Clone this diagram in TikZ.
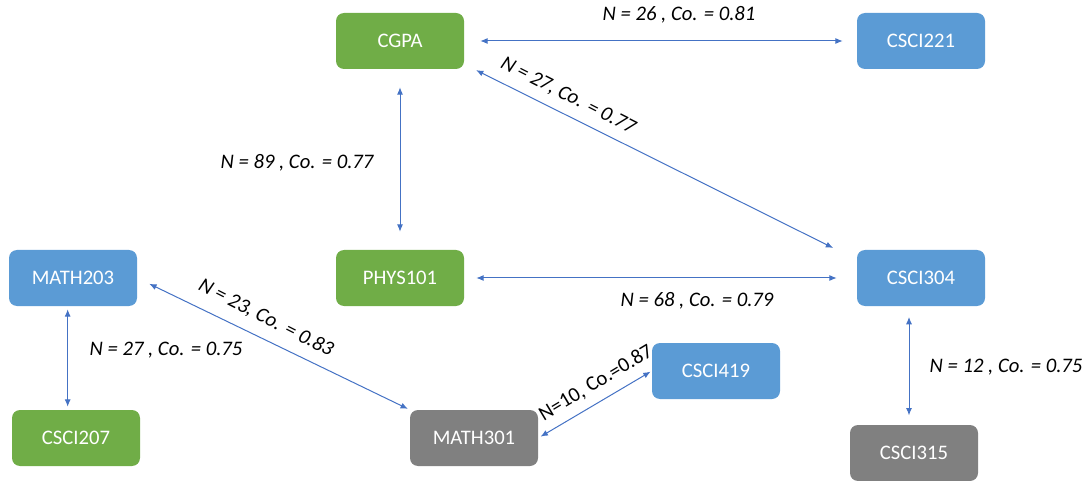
\documentclass[tikz,border=0pt]{standalone}
\usepackage{fontspec}
\setmainfont{Carlito}
\usetikzlibrary{arrows.meta}
\definecolor{crsgreen}{RGB}{112,173,71}
\definecolor{crsblue}{RGB}{91,155,213}
\definecolor{crsgray}{RGB}{128,128,128}
\definecolor{linkblue}{RGB}{68,114,196}
\tikzset{
	course/.style={rounded corners=6pt, minimum width=96pt, minimum height=42pt, text=white, inner sep=0pt, font=\fontsize{15.5}{18}\selectfont},
	conn/.style={color=linkblue, line width=0.75pt, {Latex[length=5.5pt,width=4.5pt]}-{Latex[length=5.5pt,width=4.5pt]}},
	corr/.style={inner sep=0pt, font=\fontsize{15.5}{18}\selectfont\itshape}
}
\begin{document}
\begin{tikzpicture}[x=0.75pt,y=0.75pt,yscale=-1,xscale=1]
	\useasboundingbox (0,0) rectangle (1086,481);
	
	% Course boxes
	\node [course, fill=crsgreen] (cgpa) at (400,41) {CGPA};
	\node [course, fill=crsblue] (csci221) at (921,41) {CSCI221};
	\node [course, fill=crsgreen] (phys101) at (400,278) {PHYS101};
	\node [course, fill=crsblue] (csci304) at (921,278) {CSCI304};
	\node [course, fill=crsblue] (math203) at (73,278) {MATH203};
	\node [course, fill=crsgreen] (csci207) at (76,438) {CSCI207};
	\node [course, fill=crsgray] (math301) at (474,438) {MATH301};
	\node [course, fill=crsblue] (csci419) at (716,371) {CSCI419};
	\node [course, fill=crsgray] (csci315) at (914,453) {CSCI315};
	
	% Links
	\draw [conn, shorten <=12pt, shorten >=10.5pt] (cgpa.east) -- (csci221.west);
	\draw [conn, shorten <=13.5pt, shorten >=13.5pt] (cgpa.south) -- (phys101.north);
	\draw [conn, shorten <=1.5pt, shorten >=3pt] ([xshift=7.5pt]cgpa.south east) -- ([xshift=-15pt]csci304.north west);
	\draw [conn, shorten <=9pt, shorten >=15pt] (phys101.east) -- (csci304.west);
	\draw [conn, shorten <=2.25pt, shorten >=2.25pt] ([xshift=-4pt]math203.south) -- ([xshift=-4pt]math203.south |- csci207.north);
	\draw [conn, shorten <=10pt, shorten >=1.5pt] (math203.east) -- (math301.north west);
	\draw [conn, shorten <=2pt, shorten >=1pt] (math301.east) -- (csci419.west);
	\draw [conn, shorten <=8pt, shorten >=7pt] ([xshift=-9pt]csci304.south) -- ([xshift=-9pt]csci304.south |- csci315.north);
	
	% Text Node
	\node [corr] (lbl221) at (679,15) {N = 26 , Co. = 0.81};
	% Text Node
	\node [corr] (lbl101) at (297,163) {N = 89 , Co. = 0.77};
	% Text Node
	\node [corr, rotate=-27] (lbl304) at (568,96) {N = 27, Co. = 0.77};
	% Text Node
	\node [corr] (lbl68) at (697,301) {N = 68 , Co. = 0.79};
	% Text Node
	\node [corr] (lbl207) at (166,350) {N = 27 , Co. = 0.75};
	% Text Node
	\node [corr, rotate=-27] (lbl301) at (266,318) {N = 23, Co. = 0.83};
	% Text Node
	\node [corr, font=\fontsize{15.5}{18}\selectfont, rotate=31] (lbl419) at (596,383) {N=10, Co.=0.87};
	% Text Node
	\node [corr] (lbl315) at (1006,367) {N = 12 , Co. = 0.75};
	
\end{tikzpicture}
\end{document}
